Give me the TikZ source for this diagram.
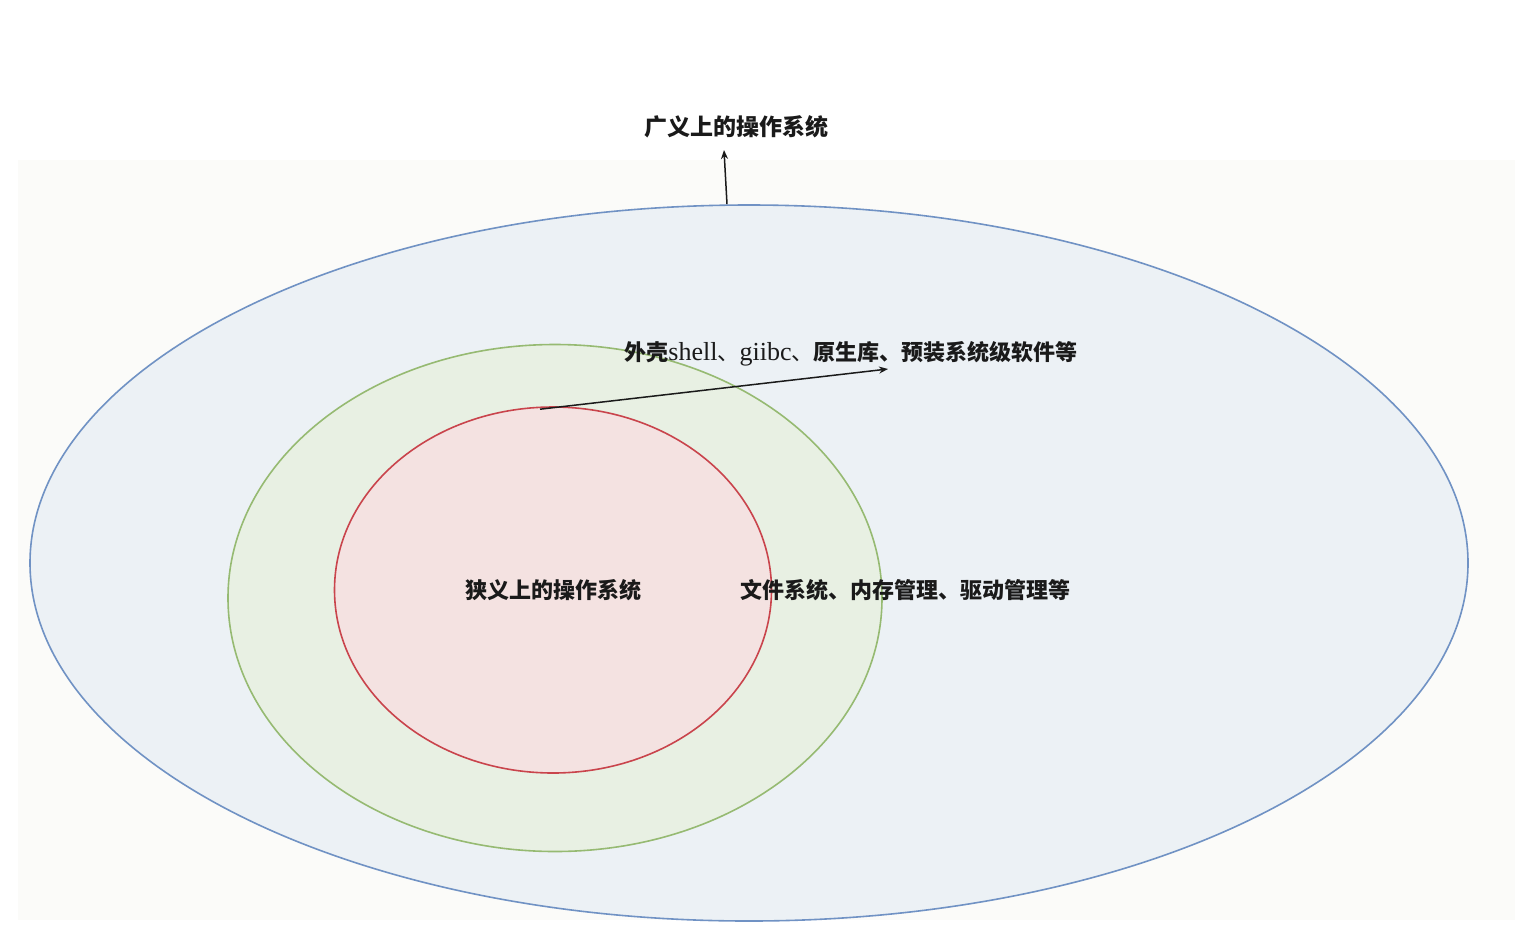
\documentclass[tikz,border=0pt]{standalone}
\usepackage{fontspec}
\newfontfamily\cjk{Noto Sans CJK SC}
\newfontfamily\lser{Liberation Serif}
\usetikzlibrary{shapes.geometric,arrows.meta}
\definecolor{paper}{HTML}{FBFBF9}
\definecolor{bluefill}{HTML}{ECF1F5}
\definecolor{bluestroke}{HTML}{7092C4}
\definecolor{greenfill}{HTML}{E8F0E3}
\definecolor{greenstroke}{HTML}{96BA72}
\definecolor{redfill}{HTML}{F4E2E1}
\definecolor{redstroke}{HTML}{C9444C}
\definecolor{ink}{HTML}{1A1A1A}
\tikzset{
  ring/.style={ellipse, inner sep=0pt, line width=1.6pt},
  lbl/.style={inner sep=0pt, text=ink, font=\cjk\bfseries\fontsize{22}{26}\selectfont},
  arr/.style={draw=ink, line width=1.5pt, -{Stealth[length=9pt,width=7pt]}}
}
\begin{document}
\begin{tikzpicture}[x=1pt,y=-1pt]
\useasboundingbox (0,0) rectangle (1515,951);
\fill[paper] (18,160) rectangle (1515,920);
\node[ring, draw=bluestroke, fill=bluefill, minimum width=1438pt, minimum height=716pt] (outer) at (749,563) {};
\node[ring, draw=greenstroke, fill=greenfill, minimum width=654pt, minimum height=507pt] (middle) at (555,598) {};
\node[ring, draw=redstroke, fill=redfill, minimum width=437pt, minimum height=366pt] (inner) at (553,590) {};
\node[lbl, font=\cjk\bfseries\fontsize{23}{27}\selectfont] (title) at (736,127) {广义上的操作系统};
\node[lbl] (shelllbl) at (851,354) {外壳{\lser\mdseries\fontsize{26}{28}\selectfont shell}{\mdseries 、}{\lser\mdseries\fontsize{26}{28}\selectfont giibc}{\mdseries 、}原生库、预装系统级软件等};
\node[lbl] (kernel) at (553,590) {狭义上的操作系统};
\node[lbl] (kparts) at (905,590) {文件系统、内存管理、驱动管理等};
\coordinate (titletip) at (724,150);
\coordinate (shelltip) at (888,369);
\draw[arr] ([xshift=-22pt]outer.north) -- (titletip);
\draw[arr] ([xshift=-13pt,yshift=-3pt]inner.north) -- (shelltip);
\end{tikzpicture}
\end{document}
